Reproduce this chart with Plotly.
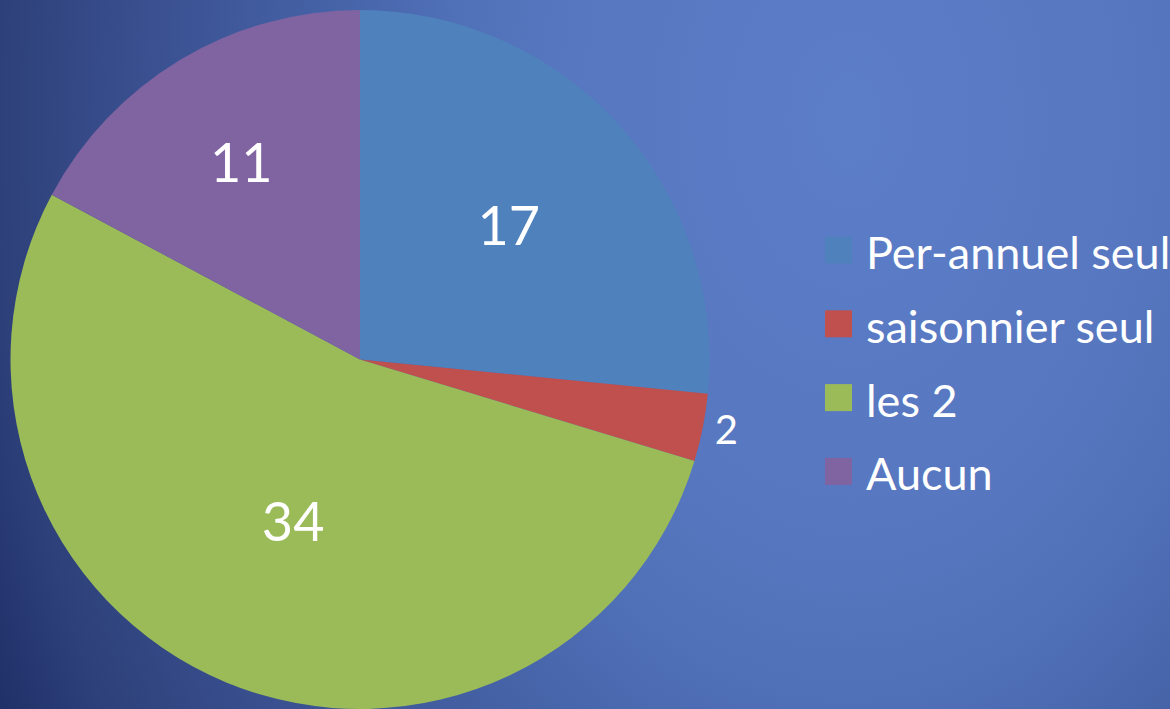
import base64
import plotly.graph_objects as go

categories = ["Per-annuel seul", "saisonnier seul", "les 2", "Aucun"]
values = [17, 2, 34, 11]
colors = ["#4F81BD", "#C0504D", "#9BBB59", "#8064A2"]
text_positions = ["inside", "outside", "inside", "inside"]

W, H = 1170, 709

svg = f"""<svg xmlns='http://www.w3.org/2000/svg' width='{W}' height='{H}' viewBox='0 0 {W} {H}' preserveAspectRatio='none'>
<defs><radialGradient id='g' gradientUnits='userSpaceOnUse' cx='850' cy='120' r='950'
 gradientTransform='translate(850 120) scale(1 1.43) translate(-850 -120)'>
<stop offset='0' stop-color='#5C7DC8'/>
<stop offset='0.3' stop-color='#5777C0'/>
<stop offset='0.42' stop-color='#5070B8'/>
<stop offset='0.56' stop-color='#4562A6'/>
<stop offset='0.74' stop-color='#3A5090'/>
<stop offset='0.9' stop-color='#2D4079'/>
<stop offset='1' stop-color='#1F2F68'/>
</radialGradient></defs>
<rect width='{W}' height='{H}' fill='url(#g)'/></svg>"""
bg_uri = "data:image/svg+xml;base64," + base64.b64encode(svg.encode()).decode()

font_family = "Lato, 'Open Sans', sans-serif"

fig = go.Figure(
    go.Pie(
        labels=categories,
        values=values,
        marker=dict(colors=colors, line=dict(width=0)),
        sort=False,
        direction="clockwise",
        rotation=0,
        textinfo="value",
        textposition=text_positions,
        insidetextorientation="horizontal",
        insidetextfont=dict(size=54, color="white", family=font_family),
        outsidetextfont=dict(size=40, color="white", family=font_family),
        domain=dict(x=[10 / W, 710 / W], y=[0, 1 - 10 / H]),
        hoverinfo="label+value+percent",
        showlegend=False,
        automargin=False,
    )
)

legend_x_sq = 825
legend_sq = 27
legend_y0 = 250
legend_step = 73.8
shapes = []
annotations = []
for i, (cat, col) in enumerate(zip(categories, colors)):
    yc = legend_y0 + i * legend_step
    shapes.append(
        dict(
            type="rect",
            xref="paper",
            yref="paper",
            x0=legend_x_sq / W,
            x1=(legend_x_sq + legend_sq) / W,
            y0=1 - (yc - legend_sq / 2) / H,
            y1=1 - (yc + legend_sq / 2) / H,
            fillcolor=col,
            line=dict(width=0),
            layer="above",
        )
    )
    annotations.append(
        dict(
            text=cat,
            xref="paper",
            yref="paper",
            x=864 / W,
            y=1 - (yc + 2) / H,
            xanchor="left",
            yanchor="middle",
            showarrow=False,
            font=dict(size=45, color="white", family=font_family),
        )
    )

fig.update_layout(
    width=W,
    height=H,
    autosize=False,
    margin=dict(l=0, r=0, t=0, b=0, pad=0, autoexpand=False),
    paper_bgcolor="#3A5494",
    plot_bgcolor="rgba(0,0,0,0)",
    font=dict(family=font_family, color="white"),
    showlegend=False,
    shapes=shapes,
    annotations=annotations,
    images=[
        dict(
            source=bg_uri,
            xref="paper",
            yref="paper",
            x=0,
            y=1,
            sizex=1,
            sizey=1,
            xanchor="left",
            yanchor="top",
            sizing="stretch",
            layer="below",
        )
    ],
)

fig.write_html(
    "out.html",
    config={"displayModeBar": False},
    post_script=(
        "document.documentElement.style.overflow='hidden';"
        "document.documentElement.style.margin='0';"
        "document.body.style.margin='0';"
        "document.body.style.overflow='hidden';"
        "document.body.style.background='#3A5494';"
    ),
)
